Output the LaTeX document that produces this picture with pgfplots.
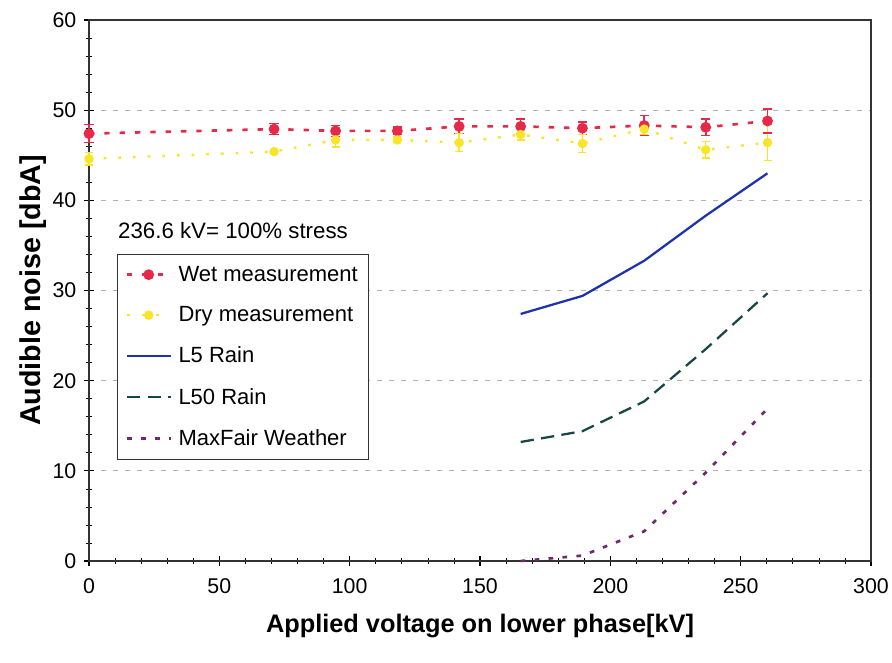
\documentclass[border=0pt]{standalone}
\usepackage{pgfplots}
\pgfplotsset{compat=1.18}
\usepackage{fontspec}
\setmainfont{Liberation Sans}

\definecolor{wetred}{RGB}{232,40,72}
\definecolor{dryyellow}{RGB}{250,228,40}
\definecolor{lfive}{RGB}{30,50,175}
\definecolor{lfifty}{RGB}{25,70,70}
\definecolor{maxfair}{RGB}{112,40,112}

\begin{document}
\begin{tikzpicture}
\begin{axis}[
  scale only axis,
  width=586.5pt, height=405.75pt,
  xmin=0, xmax=300, ymin=0, ymax=60,
  xtick={0,50,...,300}, ytick={0,10,...,60},
  minor x tick num=4, minor y tick num=4,
  tick pos=left,
  major tick length=8pt, minor tick length=4pt,
  every major tick/.style={black, line width=0.8pt},
  every minor tick/.style={black, line width=0.5pt},
  tick align=center,
  axis line style={line width=1pt, black!80},
  ymajorgrids,
  major grid style={black!30, line width=0.7pt, dash pattern=on 4pt off 5pt},
  /pgf/number format/assume math mode=true,
  ticklabel style={font=\fontsize{16}{16}\selectfont},
  xticklabel style={yshift=-6pt},
  yticklabel style={xshift=-2pt},
  xlabel={\bfseries Applied voltage on lower phase[kV]},
  ylabel={\bfseries Audible noise [dbA]},
  xlabel style={font=\fontsize{19}{19}\selectfont, yshift=-8pt},
  ylabel style={font=\fontsize{21.5}{21.5}\selectfont, yshift=-2pt},
  clip=false,
  unbounded coords=jump,
  legend cell align=left,
  legend style={
    at={(rel axis cs:0.036,0.568)}, anchor=north west,
    font=\fontsize{16.5}{16.5}\selectfont,
    draw=black!80, line width=0.6pt,
    row sep=13.5pt, inner xsep=6pt, inner ysep=7pt,
    /tikz/every odd column/.append style={column sep=3pt},
  },
  legend image code/.code={%
    \draw[mark repeat=2,mark phase=2,#1]
      plot coordinates {(0cm,0cm) (0.575cm,0cm) (1.15cm,0cm)};},
]

% error bars of the wet measurements (low and high end of each bar)
\addplot[forget plot, wetred, solid, line width=1.2pt,
  mark=-, mark size=3.5pt, mark options={solid, line width=1.2pt}]
  table {
    x y
    0 46.4
    0 48.4
    0 nan
    71 47.3
    71 48.5
    71 nan
    94.6 47.1
    94.6 48.3
    94.6 nan
    118.3 47.3
    118.3 48.1
    118.3 nan
    142 47.4
    142 49.0
    142 nan
    165.6 47.4
    165.6 49.0
    165.6 nan
    189.3 47.3
    189.3 48.7
    189.3 nan
    213 47.2
    213 49.4
    213 nan
    236.6 47.2
    236.6 49.0
    236.6 nan
    260.3 47.5
    260.3 50.1
  };

% error bars of the dry measurements
\addplot[forget plot, dryyellow, solid, line width=1.1pt,
  mark=-, mark size=3pt, mark options={solid, line width=1.1pt}]
  table {
    x y
    0 43.9
    0 45.3
    0 nan
    71 45.2
    71 45.6
    71 nan
    94.6 45.9
    94.6 47.5
    94.6 nan
    118.3 46.4
    118.3 47.0
    118.3 nan
    142 45.4
    142 47.4
    142 nan
    165.6 46.7
    165.6 47.9
    165.6 nan
    189.3 45.3
    189.3 47.3
    189.3 nan
    213 47.3
    213 48.5
    213 nan
    236.6 44.7
    236.6 46.5
    236.6 nan
    260.3 44.4
    260.3 48.4
  };

% wet measurement
\addplot[color=wetred, line width=2pt, dash pattern=on 4pt off 7.5pt,
  mark=*, mark size=3pt, mark options={solid, fill=wetred}]
  coordinates {
    (0,47.4) (71,47.9) (94.6,47.7) (118.3,47.7) (142,48.2)
    (165.6,48.2) (189.3,48.0) (213,48.3) (236.6,48.1) (260.3,48.8)
  };
\addlegendentry{Wet measurement}

% dry measurement
\addplot[color=dryyellow, line width=1.8pt, dash pattern=on 2pt off 9pt,
  mark=*, mark size=2.6pt, mark options={solid, fill=dryyellow}]
  coordinates {
    (0,44.6) (71,45.4) (94.6,46.7) (118.3,46.7) (142,46.4)
    (165.6,47.3) (189.3,46.3) (213,47.9) (236.6,45.6) (260.3,46.4)
  };
\addlegendentry{Dry measurement}

\addplot[color=lfive, line width=1.7pt, no markers]
  coordinates {(165.6,27.4) (189.3,29.4) (213,33.3) (236.6,38.3) (260.3,43.0)};
\addlegendentry{L5 Rain}

\addplot[color=lfifty, line width=1.7pt, no markers, dash pattern=on 10pt off 5.5pt]
  coordinates {(165.6,13.2) (189.3,14.4) (213,17.7) (236.6,23.5) (260.3,29.7)};
\addlegendentry{L50 Rain}

\addplot[color=maxfair, line width=2pt, no markers, dash pattern=on 3.5pt off 7pt]
  coordinates {(165.6,0) (189.3,0.6) (213,3.3) (236.6,9.8) (260.3,16.9)};
\addlegendentry{MaxFair Weather}

\node[anchor=west, font=\fontsize{16.7}{16.7}\selectfont, inner sep=0pt]
  at (rel axis cs:0.037,0.61) {236.6 kV= 100\% stress};

\coordinate (bl) at (rel axis cs:0,0);
\coordinate (tr) at (rel axis cs:1,1);
\end{axis}
\pgfresetboundingbox
\path ([shift={(-66.75pt,-76.5pt)}]bl) rectangle ([shift={(15.75pt,15pt)}]tr);
\end{tikzpicture}
\end{document}
